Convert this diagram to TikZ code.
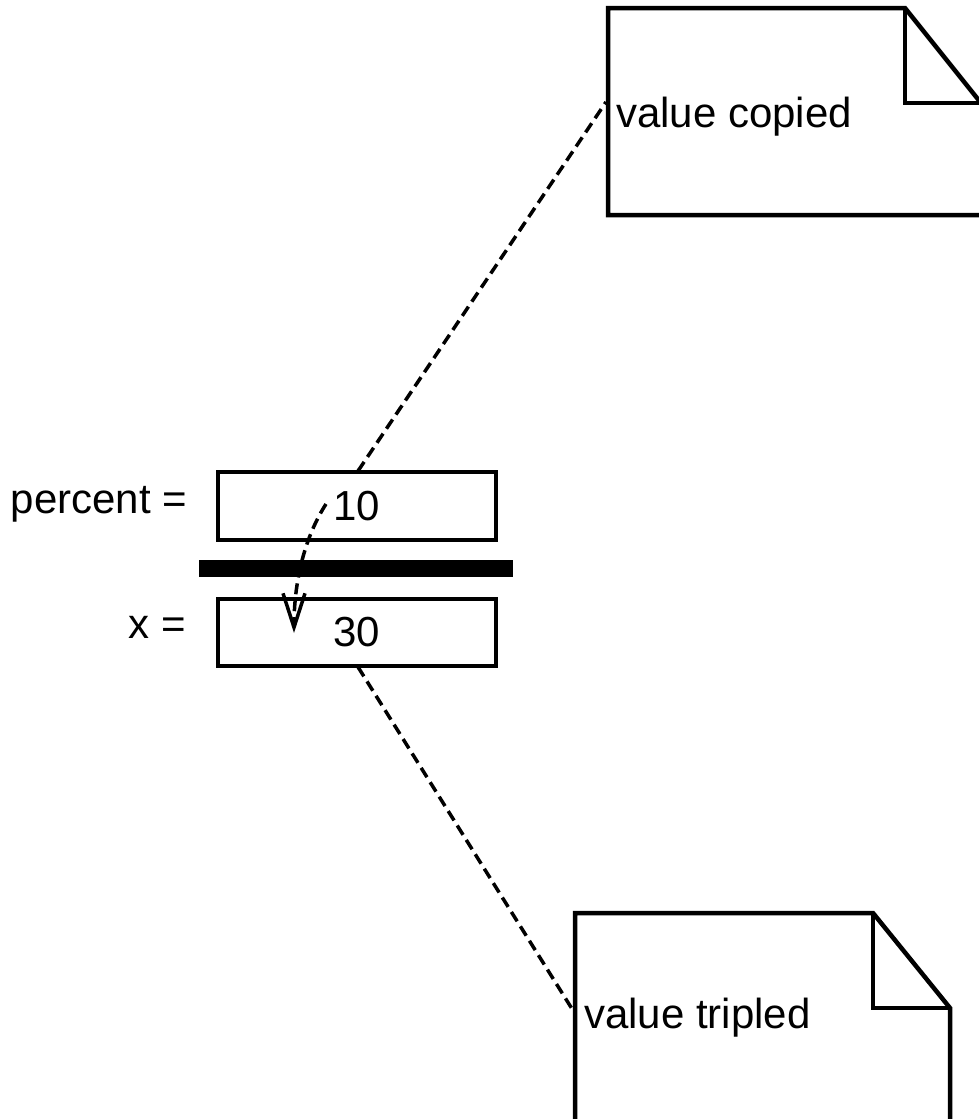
\documentclass[tikz,border=0pt]{standalone}
\usepackage{fontspec}
\setmainfont{Liberation Sans}
\usetikzlibrary{arrows.meta}
\begin{document}
\begin{tikzpicture}[x=1pt,y=-1pt,
  every node/.style={font=\fontsize{42}{50}\selectfont, inner sep=0pt, outer sep=0pt},
  valbox/.style={draw, line width=4.5pt, minimum width=278pt, minimum height=68pt},
  notebox/.style={draw, line width=4.5pt, line join=miter},
  conn/.style={line width=3.5pt, dash pattern=on 11pt off 6pt},
  flow/.style={line width=3.5pt, dash pattern=on 11pt off 6pt, -{Straight Barb[length=34pt,width=22pt,line width=3.5pt]}}]
\useasboundingbox (0,0) rectangle (979,1119);
\fill[white] (0,0) rectangle (979,1119);
% value boxes
\node[valbox] (pbox) at (357,506) {10};
\node[valbox, minimum height=67pt] (xbox) at (357,632.5) {30};
\node[fill=black, minimum width=314pt, minimum height=17pt] (bar) at (356,568.5) {};
\node[anchor=base east] (plabel) at (187,513) {percent =};
\node[anchor=base east] (xlabel) at (186,638) {x =};
% notes
\draw[notebox] (985,215) -- (608,215) -- (608,8) -- (905,8) -- (985,108);
\draw[notebox] (905,8) -- (905,103) -- (985,103);
\node[anchor=base west] (copied) at (616,127) {value copied};
\coordinate (cpin) at (606,102);
\draw[notebox] (950,1130) -- (950,1008) -- (873,913) -- (575,913) -- (575,1130);
\draw[notebox] (873,913) -- (873,1008) -- (950,1008);
\node[anchor=base west] (tripled) at (584,1028) {value tripled};
\coordinate (tpin) at (574,1012);
% connectors
\coordinate (ptop) at (358,471);
\coordinate (xbot) at (358,667);
\draw[conn] (ptop) -- (cpin);
\draw[conn] (xbot) -- (tpin);
\coordinate (fstart) at (326,504);
\coordinate (fend) at (294,633);
\draw[flow] (fstart) .. controls (303,540) and (294,585) .. (fend);
\end{tikzpicture}
\end{document}
